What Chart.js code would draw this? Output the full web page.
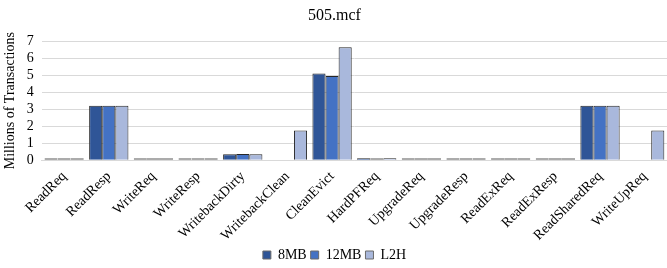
<!DOCTYPE html>
<html>
<head>
<meta charset="utf-8">
<script src="https://cdn.jsdelivr.net/npm/chart.js@4/dist/chart.umd.min.js"></script>
<style>
  html, body { margin: 0; padding: 0; background: #fff; }
  #wrap { width: 667px; height: 268px; }
</style>
</head>
<body>
<div id="wrap"><canvas id="myChart"></canvas></div>
<script>
const categories = ['ReadReq', 'ReadResp', 'WriteReq', 'WriteResp', 'WritebackDirty', 'WritebackClean',
  'CleanEvict', 'HardPFReq', 'UpgradeReq', 'UpgradeResp', 'ReadExReq', 'ReadExResp', 'ReadSharedReq', 'WriteUpReq'];

// null = no transactions of that kind for the config
const mb8  = [0.02, 3.2, 0.02, 0.02, 0.35, null, 5.1,  0.08, 0.01, 0.01, 0.01, 0.01, 3.2, null];
const mb12 = [0.02, 3.2, 0.02, 0.02, 0.37, null, 4.95, 0.04, 0.01, 0.01, 0.01, 0.01, 3.2, null];
const l2h  = [0.02, 3.2, 0.02, 0.02, 0.35, 1.75, 6.65, 0.1,  0.01, 0.01, 0.01, 0.01, 3.2, 1.75];

const yTicks = [0, 1, 2, 3, 4, 5, 6, 7];

const serif = "'Liberation Serif', 'Times New Roman', serif";

function tiny(ctx) {
  return ctx.raw !== null && ctx.raw < 0.05;
}

function makeSet(label, data, color) {
  return {
    label: label,
    data: data,
    backgroundColor: color,
    // tiny values show up as a thin grey line like the original
    borderColor: ctx => tiny(ctx) ? '#6b6b6b' : '#262626',
    borderSkipped: ctx => tiny(ctx) ? false : 'start',
    borderWidth: 1,
    minBarLength: 2,
    barPercentage: 1,
    categoryPercentage: 0.88
  };
}

new Chart(document.getElementById('myChart'), {
  type: 'bar',
  data: {
    labels: categories,
    datasets: [
      makeSet('8MB', mb8, '#2f5597'),
      makeSet('12MB', mb12, '#4472c4'),
      makeSet('L2H', l2h, '#a9b8dc')
    ]
  },
  options: {
    responsive: true,
    maintainAspectRatio: false,
    animation: false,
    layout: { padding: { left: 2, right: 0, top: 6, bottom: -4 } },
    plugins: {
      title: {
        display: true,
        text: '505.mcf',
        color: '#000',
        font: { family: serif, size: 16, weight: 'normal' },
        padding: { top: 0, bottom: 16 }
      },
      legend: {
        position: 'bottom',
        labels: {
          color: '#000',
          font: { family: serif, size: 14 },
          boxWidth: 8,
          boxHeight: 8,
          padding: 4
        }
      },
      tooltip: { enabled: false }
    },
    scales: {
      x: {
        grid: { display: false },
        border: { color: '#d9d9d9' },
        ticks: {
          color: '#000',
          font: { family: serif, size: 14 },
          minRotation: 45,
          maxRotation: 45,
          padding: 0
        }
      },
      y: {
        min: 0,
        max: 7,
        afterBuildTicks: function (axis) {
          axis.ticks = yTicks.map(v => ({ value: v }));
        },
        grid: { color: '#d9d9d9', drawTicks: false },
        border: { display: false },
        ticks: {
          color: '#000',
          font: { family: serif, size: 14 },
          autoSkip: false,
          padding: 8
        },
        title: {
          display: true,
          text: 'Millions of Transactions',
          color: '#000',
          font: { family: serif, size: 14 },
          padding: 0
        }
      }
    }
  }
});
</script>
</body>
</html>
